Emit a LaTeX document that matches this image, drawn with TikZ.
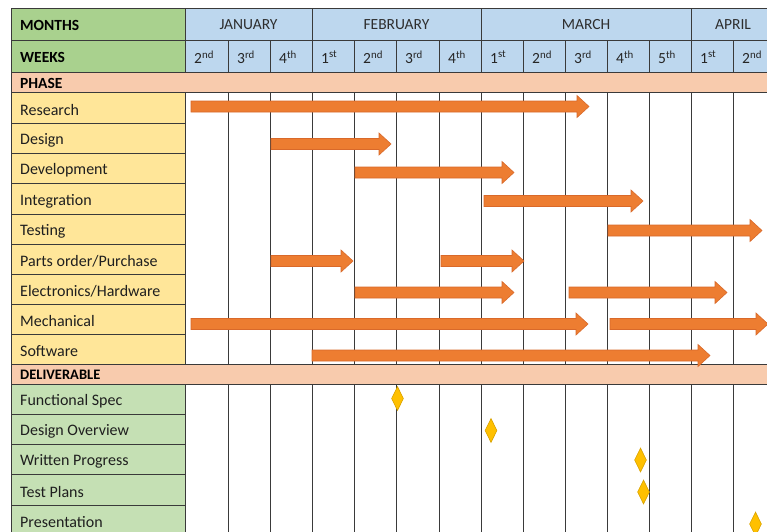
\documentclass[tikz,border=0pt]{standalone}
\usepackage{fontspec}
\setmainfont{Carlito}
\usetikzlibrary{shapes.geometric}
\definecolor{hdrgreen}{HTML}{A9D18E}
\definecolor{monthblue}{HTML}{BDD7EE}
\definecolor{phasepink}{HTML}{F8CBAD}
\definecolor{phaseyellow}{HTML}{FFE699}
\definecolor{delivgreen}{HTML}{C5E0B4}
\definecolor{barorange}{HTML}{ED7D31}
\definecolor{baredge}{HTML}{D9692A}
\definecolor{gemfill}{HTML}{FFC000}
\definecolor{gemedge}{HTML}{D9A300}
\definecolor{gridline}{HTML}{3A3A3A}
\begin{document}
\begin{tikzpicture}[x=1pt,y=-1pt,
  gline/.style={draw=gridline,line width=0.9pt},
  hdrtext/.style={anchor=west,inner sep=0pt,font=\fontsize{15.5}{18}\selectfont\bfseries,text=black},
  rowtext/.style={anchor=west,inner sep=0pt,font=\fontsize{16}{19}\selectfont,text=black!88},
  monthtext/.style={inner sep=0pt,font=\fontsize{15.5}{18}\selectfont,text=black!82},
  weektext/.style={anchor=west,inner sep=0pt,font=\fontsize{15.5}{18}\selectfont,text=black!85},
  gbar/.style={fill=barorange,draw=baredge,line width=0.6pt,line join=miter},
  gem/.style={shape=diamond,aspect=0.5,minimum width=12pt,minimum height=24pt,inner sep=0pt,fill=gemfill,draw=gemedge,line width=0.6pt}]
\useasboundingbox (0,0) rectangle (767,531);
\clip (0,0) rectangle (767,531);
% fills
\fill[white] (0,0) rectangle (767,531);
\fill[hdrgreen] (11,8) rectangle (185,72);
\fill[monthblue] (185,8) rectangle (780,72);
\fill[phasepink] (11,72) rectangle (780,92.5);
\fill[phaseyellow] (11,92.5) rectangle (185,364);
\fill[phasepink] (11,364) rectangle (780,384);
\fill[delivgreen] (11,384) rectangle (185,540);
% horizontal lines
\foreach \y in {8,40,72,92.5,364,384} \draw[gline] (11,\y) -- (780,\y);
\foreach \y in {123,153,183.5,214,244,274,304,334,414,444,474,505} \draw[gline] (11,\y) -- (185,\y);
% vertical lines
\draw[gline] (11,8) -- (11,540);
\foreach \x in {185,312,481,691} \draw[gline] (\x,8) -- (\x,40);
\foreach \x in {185,228,270,312,354,396,439,481,523,565,607,649,691,733,775} {
  \draw[gline] (\x,40) -- (\x,72);
  \draw[gline] (\x,92.5) -- (\x,364);
  \draw[gline] (\x,384) -- (\x,540);
}
% header texts
\node[hdrtext] (months) at (20,25) {MONTHS};
\node[hdrtext] (weeks) at (20,57) {WEEKS};
\node[hdrtext] (phase) at (20,83) {PHASE};
\node[hdrtext,font=\fontsize{14.5}{17}\selectfont\bfseries] (deliverable) at (20,375) {DELIVERABLE};
\node[monthtext] (jan) at (248.5,24.5) {JANUARY};
\node[monthtext] (feb) at (396.5,24.5) {FEBRUARY};
\node[monthtext] (mar) at (586,24.5) {MARCH};
\node[monthtext] (apr) at (733,24.5) {APRIL};
\foreach \x/\n/\s [count=\i] in {185/2/nd,228/3/rd,270/4/th,312/1/st,354/2/nd,396/3/rd,439/4/th,481/1/st,523/2/nd,565/3/rd,607/4/th,649/5/th,691/1/st,733/2/nd}
  \node[weektext] (wk\i) at (\x+9,57) {\n\textsuperscript{\s}};
% phase labels
\node[rowtext] (research) at (20,110) {Research};
\node[rowtext] (design) at (20,140) {Design};
\node[rowtext] (development) at (20,170.5) {Development};
\node[rowtext] (integration) at (20,201) {Integration};
\node[rowtext] (testing) at (20,231) {Testing};
\node[rowtext] (parts) at (20,261) {Parts order/Purchase};
\node[rowtext] (electronics) at (20,291) {Electronics/Hardware};
\node[rowtext] (mechanical) at (20,321) {Mechanical};
\node[rowtext] (software) at (20,351) {Software};
% deliverable labels
\node[rowtext] (funcspec) at (20,401) {Functional Spec};
\node[rowtext] (desover) at (20,431) {Design Overview};
\node[rowtext] (writprog) at (20,461) {Written Progress};
\node[rowtext] (testplans) at (20,491.5) {Test Plans};
\node[rowtext] (present) at (20,522) {Presentation};
% bars
\foreach \a/\b/\y in {191/589/106.5, 271/391/144, 355/514/172.5, 484/643/201, 608/762/230.5,
  271/353/261, 441/524/261, 355/514/292.5, 569/727/292.5, 191/588/324, 610/768/324, 312/710/355.5}
  \draw[gbar] (\a,\y-5.5) -- (\b-12,\y-5.5) -- (\b-12,\y-11) -- (\b,\y) -- (\b-12,\y+11) -- (\b-12,\y+5.5) -- (\a,\y+5.5) -- cycle;
% milestones
\node[gem] (m1) at (397.5,398.5) {};
\node[gem] (m2) at (491,430.5) {};
\node[gem] (m3) at (640.5,460) {};
\node[gem] (m4) at (643.5,492) {};
\node[gem] (m5) at (755.5,524) {};
\end{tikzpicture}
\end{document}
